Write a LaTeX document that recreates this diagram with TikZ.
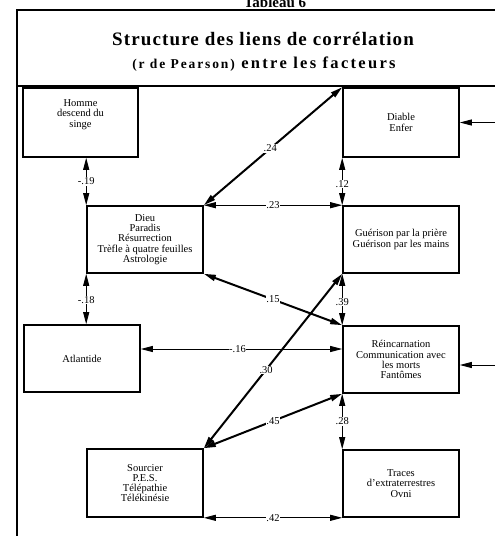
\documentclass[tikz,border=0pt]{standalone}
\usepackage{fontspec}
\setmainfont{Liberation Serif}
\newfontfamily\titrefont[LetterSpace=6]{Liberation Serif}
\newfontfamily\soustitrefont[LetterSpace=14]{Liberation Serif}
\usetikzlibrary{arrows.meta}
\tikzset{
  facteur/.style={draw, line width=1.6pt, minimum width=116pt, minimum height=67pt,
    align=center, inner sep=2pt, font=\fontsize{10.5}{10.2}\selectfont},
  coef/.style={fill=white, inner sep=0.6pt, font=\fontsize{10.5}{10}\selectfont},
  lien/.style={line width=0.9pt, {Triangle[length=12pt,width=6pt]}-{Triangle[length=12pt,width=6pt]}},
  fort/.style={lien, line width=2pt},
  entree/.style={line width=0.9pt, -{Triangle[length=12pt,width=6pt]}},
}

\begin{document}
\begin{tikzpicture}[x=1pt,y=-1pt]
\useasboundingbox (0,0) rectangle (495,536);
% cadre et titre
\draw[line width=1.5pt] (17,545) -- (17,10) -- (505,10);
\draw[line width=1.5pt] (17,86) -- (505,86);
\node[anchor=base, font=\bfseries\fontsize{15}{15}\selectfont] (tableau) at (275,7) {Tableau 6};
\node[anchor=base, font=\titrefont\bfseries\fontsize{19}{20}\selectfont] (titre) at (263,45) {Structure des liens de corrélation};
\node[anchor=base, font=\soustitrefont\bfseries\fontsize{16.5}{16.5}\selectfont] (soustitre) at (264,68) {{\fontsize{13.5}{13.5}\selectfont(r de Pearson)} entre les facteurs};

% les facteurs
\node[facteur, minimum width=115pt, minimum height=69pt] (homme) at (80.5,122.5) {Homme\\descend du\\singe\\[8pt]};
\node[facteur] (dieu) at (145,239.5) {Dieu\\Paradis\\Résurrection\\Trèfle à quatre feuilles\\Astrologie};
\node[facteur] (atlantide) at (82,358.5) {Atlantide};
\node[facteur, minimum height=68pt] (sourcier) at (145,483) {Sourcier\\P.E.S.\\Télépathie\\Télékinésie};
\node[facteur, minimum height=69pt] (diable) at (401,122.5) {Diable\\Enfer};
\node[facteur] (guerison) at (401,239.5) {Guérison par la prière\\Guérison par les mains};
\node[facteur] (reinc) at (401,359.5) {Réincarnation\\Communication avec\\les morts\\Fantômes};
\node[facteur] (traces) at (401,483.5) {Traces\\d'extraterrestres\\Ovni};

% liens verticaux
\draw[lien] (dieu.west |- homme.south) -- (dieu.north west) node[coef, pos=0.5] (c19) {-.19};
\draw[lien] (dieu.south west) -- (dieu.west |- atlantide.north) node[coef, pos=0.52] (c18) {-.18};
\draw[lien] (diable.south west) -- (guerison.north west) node[coef, pos=0.55] (c12) {.12};
\draw[lien] (guerison.south west) -- (reinc.north west) node[coef, pos=0.55] (c39) {.39};
\draw[lien] (reinc.south west) -- (traces.north west) node[coef, pos=0.5] (c28) {.28};

% liens horizontaux
\coordinate (a16) at ([yshift=9.5pt]atlantide.east);
\draw[lien] (dieu.north east) -- (guerison.north west) node[coef, pos=0.5] (c23) {.23};
\draw[lien] (a16) -- (a16 -| reinc.west) node[coef, pos=0.48] (c16) {-.16};
\draw[lien] (sourcier.south east) -- (traces.south west) node[coef, pos=0.5] (c42) {.42};

% liens obliques
\draw[fort] (dieu.north east) -- (diable.north west) node[coef, pos=0.48] (c24) {.24};
\draw[fort] (dieu.south east) -- (reinc.north west) node[coef, pos=0.5] (c15) {.15};
\draw[fort] (sourcier.north east) -- (guerison.south west) node[coef, pos=0.45] (c30) {.30};
\draw[fort] (sourcier.north east) -- (reinc.south west) node[coef, pos=0.5] (c45) {.45};

% fleches venant de droite
\coordinate (hd) at (505,122.5);
\coordinate (hr) at (505,365);
\draw[entree] (hd) -- (diable.east);
\draw[entree] (hr) -- (hr -| reinc.east);
\end{tikzpicture}
\end{document}
